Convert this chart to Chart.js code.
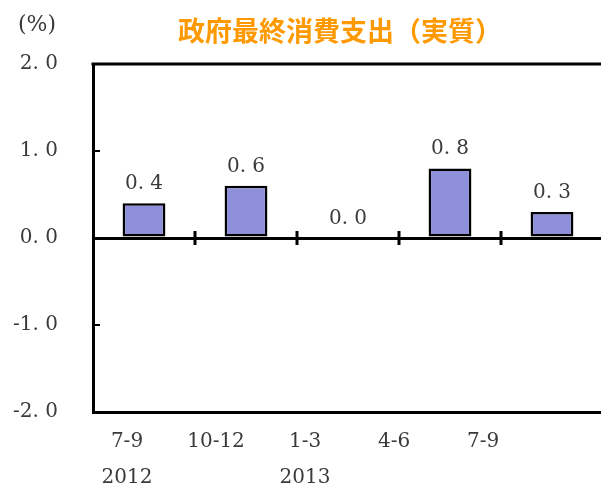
<!DOCTYPE html>
<html>
<head>
<meta charset="utf-8">
<script src="https://cdn.jsdelivr.net/npm/chart.js@4/dist/chart.umd.min.js"></script>
<style>
  html, body { margin: 0; padding: 0; background: #fff; overflow: hidden; }
  #wrap { position: relative; width: 606px; height: 486px; }
</style>
</head>
<body>
<div id="wrap"><canvas id="c" width="606" height="486"></canvas></div>
<script>
// ---- data ----
const categories = ['7-9', '10-12', '1-3', '4-6', '7-9'];
const years = ['2012', '', '2013', '', ''];
const values = [0.4, 0.6, 0.0, 0.8, 0.3];
const yTicks = [-2, -1, 0, 1, 2];
const titleText = '政府最終消費支出（実質）';
const unitText = '(%)';

const fmt = v => v.toFixed(1).replace('.', '. ');
const serif = 'DejaVu Serif';
const textColor = '#3a3a3a';

// label axis range (labels are spaced differently from bars in the original)
const lblMin = -0.382, lblMax = 5.348;

const decor = {
  id: 'decor',
  afterDatasetsDraw(chart) {
    const ctx = chart.ctx;
    const a = chart.chartArea;
    const ys = chart.scales.y, xs = chart.scales.x;
    ctx.save();
    ctx.strokeStyle = '#000';
    ctx.lineWidth = 3;
    // top border
    ctx.beginPath();
    ctx.moveTo(a.left - 1.5, a.top);
    ctx.lineTo(a.right, a.top);
    ctx.stroke();
    // inward y ticks
    ctx.lineWidth = 2;
    [1, -1].forEach(v => {
      const y = ys.getPixelForValue(v);
      ctx.beginPath();
      ctx.moveTo(a.left, y);
      ctx.lineTo(a.left + 7, y);
      ctx.stroke();
    });
    // crossing ticks on zero line at category boundaries
    ctx.lineWidth = 3;
    const z = ys.getPixelForValue(0);
    for (let i = 0; i < categories.length - 1; i++) {
      const x = (xs.getPixelForValue(i) + xs.getPixelForValue(i + 1)) / 2;
      ctx.beginPath();
      ctx.moveTo(x, z - 7);
      ctx.lineTo(x, z + 7);
      ctx.stroke();
    }
    // value labels
    const meta = chart.getDatasetMeta(0);
    ctx.fillStyle = textColor;
    ctx.font = '20px "' + serif + '"';
    ctx.textAlign = 'center';
    ctx.textBaseline = 'alphabetic';
    meta.data.forEach((bar, i) => {
      ctx.fillText(fmt(values[i]), bar.x, bar.y - 14);
    });
    // unit
    ctx.font = '22px "' + serif + '"';
    ctx.textBaseline = 'middle';
    ctx.fillText(unitText, 37, 25);
    // title
    ctx.fillStyle = '#FF9900';
    ctx.font = 'bold 27px "Noto Sans CJK JP"';
    ctx.fillText(titleText, 340, 31);
    ctx.restore();
  }
};

new Chart(document.getElementById('c'), {
  type: 'bar',
  data: {
    labels: categories,
    datasets: [{
      data: values,
      backgroundColor: '#9090da',
      borderColor: '#000',
      borderWidth: 2.5,
      borderSkipped: false,
      categoryPercentage: 1,
      barPercentage: 0.42
    }]
  },
  options: {
    responsive: false,
    animation: false,
    devicePixelRatio: 1,
    layout: { padding: { top: 64, left: 0, right: 3, bottom: 0 } },
    plugins: { legend: { display: false }, tooltip: { enabled: false }, title: { display: false } },
    scales: {
      y: {
        type: 'linear', min: -2, max: 2,
        afterBuildTicks: s => { s.ticks = yTicks.map(v => ({ value: v })); },
        afterFit: s => { s.width = 93; },
        ticks: {
          callback: v => fmt(v),
          font: { family: serif, size: 20 },
          color: textColor,
          padding: 35
        },
        grid: {
          color: c => (c.tick && c.tick.value === 0) ? '#000' : 'rgba(0,0,0,0)',
          lineWidth: 3,
          drawTicks: false
        },
        border: { display: true, color: '#000', width: 3 }
      },
      x: {
        type: 'category',
        offset: true,
        afterFit: s => { s.height = 0; },
        ticks: { display: false },
        grid: { display: false, drawTicks: false },
        border: { display: true, color: '#000', width: 3 }
      },
      xl: {
        type: 'linear',
        position: 'bottom',
        offset: false,
        min: lblMin, max: lblMax,
        afterBuildTicks: s => { s.ticks = categories.map((_, i) => ({ value: i })); },
        afterFit: s => { s.height = 74; },
        ticks: {
          autoSkip: false,
          maxRotation: 0,
          callback: v => [categories[v], years[v]],
          font: { family: serif, size: 20, lineHeight: 1.8 },
          color: textColor,
          padding: 12
        },
        grid: { display: false, drawTicks: false, offset: false },
        border: { display: false }
      }
    }
  },
  plugins: [decor]
});
</script>
</body>
</html>
